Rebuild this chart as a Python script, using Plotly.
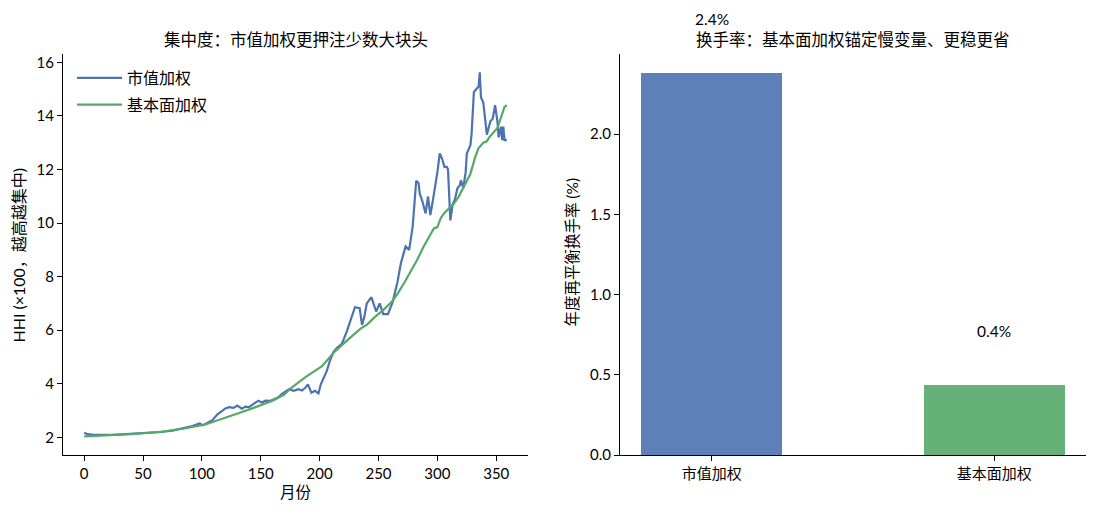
import plotly.graph_objects as go

# ---------------- data ----------------
mcap_months = [0, 3, 8, 15, 25, 35, 45, 55, 65, 75, 85, 92, 98, 101, 105, 109, 113, 117, 120, 123,
               127, 130, 134, 137, 140, 144, 148, 151, 154, 158, 162, 165, 168, 171, 174, 178, 182,
               185, 188, 190, 193, 196, 199, 201, 204, 206, 209, 212, 215, 219, 223, 227, 230, 234,
               236, 238, 240, 244, 246, 248, 251, 254, 258, 262, 266, 269, 273, 276, 279, 281, 282,
               284, 285, 287, 289, 290, 292, 294, 296, 298, 300, 302, 304, 306, 308, 309, 310, 311,
               313, 315, 317, 319, 320, 322, 324, 325, 327, 328, 329, 331, 333, 335, 336, 337, 339,
               341, 342, 345, 347, 349, 351, 352, 354, 355, 356, 357, 359]
mcap_hhi = [2.17, 2.12, 2.09, 2.08, 2.09, 2.12, 2.14, 2.17, 2.2, 2.25, 2.35, 2.42, 2.52, 2.45, 2.55,
            2.64, 2.85, 3.0, 3.08, 3.13, 3.1, 3.19, 3.07, 3.15, 3.13, 3.25, 3.37, 3.3, 3.37, 3.36,
            3.43, 3.5, 3.62, 3.7, 3.8, 3.74, 3.8, 3.75, 3.86, 3.98, 3.67, 3.74, 3.64, 3.98, 4.3, 4.47,
            4.9, 5.2, 5.35, 5.5, 5.95, 6.5, 6.86, 6.82, 6.2, 6.5, 7.0, 7.23, 7.0, 6.7, 7.0, 6.6, 6.6,
            7.05, 7.78, 8.5, 9.13, 9.0, 9.86, 11.0, 11.58, 11.5, 11.1, 10.85, 10.5, 10.36, 11.0, 10.3,
            10.8, 11.3, 11.9, 12.6, 12.4, 12.1, 12.1, 12.0, 11.0, 10.1, 10.7, 10.9, 11.3, 11.4, 11.6,
            11.3, 11.9, 12.6, 12.8, 12.9, 13.3, 14.9, 15.0, 15.1, 15.63, 14.7, 14.5, 13.6, 13.3, 13.8,
            13.9, 14.4, 13.8, 13.2, 13.6, 13.1, 13.6, 13.1, 13.1]

fund_months = [0, 20, 40, 64, 85, 103, 120, 131, 145, 160, 170, 176, 188, 195, 202, 213, 220, 227,
               235, 240, 247, 254, 261, 266, 272, 278, 283, 288, 292, 297, 300, 303, 306, 311, 314,
               318, 323, 328, 332, 335, 339, 342, 344, 351, 357, 359]
fund_hhi = [2.04, 2.07, 2.12, 2.2, 2.33, 2.48, 2.72, 2.9, 3.12, 3.37, 3.6, 3.85, 4.25, 4.45, 4.66,
            5.21, 5.5, 5.76, 6.07, 6.2, 6.5, 6.75, 7.05, 7.35, 7.78, 8.25, 8.64, 9.1, 9.4, 9.8, 9.85,
            10.2, 10.38, 10.6, 10.73, 10.98, 11.4, 11.83, 12.45, 12.8, 13.0, 13.05, 13.2, 13.55,
            14.34, 14.4]

series_names = ["市值加权", "基本面加权"]
turnover = [2.38, 0.435]
turnover_labels = ["2.4%", "0.4%"]

left_title = "集中度：市值加权更押注少数大块头"
right_title = "换手率：基本面加权锚定慢变量、更稳更省"

# ---------------- style ----------------
W, H = 1097, 523
BLUE, GREEN = "#4C72B0", "#55A868"
BAR_COLORS = ["#5E80B8", "#66B177"]
FONT = "Lato, 'Noto Sans CJK SC', sans-serif"
Y2MAX = 2.499
LABEL_OFFSET = 0.34


def px(x):
    return x / W


def py(y):
    return 1 - y / H


fig = go.Figure()
fig.add_trace(go.Scatter(x=mcap_months, y=mcap_hhi, mode="lines", name=series_names[0],
                         legendgroup="a", line=dict(color=BLUE, width=2.2), xaxis="x", yaxis="y"))
fig.add_trace(go.Scatter(x=fund_months, y=fund_hhi, mode="lines", name=series_names[1],
                         legendgroup="b", line=dict(color=GREEN, width=2.2), xaxis="x", yaxis="y"))
fig.add_trace(go.Bar(x=[0, 1], y=turnover, width=0.5, marker=dict(color=BAR_COLORS, line=dict(width=0)),
                     showlegend=False, xaxis="x2", yaxis="y2"))

axis_common = dict(showgrid=False, zeroline=False, showline=True, linecolor="black", linewidth=1,
                   ticks="outside", ticklen=5, tickcolor="black", tickwidth=1,
                   tickfont=dict(size=15, color="black", family=FONT), mirror=False)

fig.update_layout(
    width=W, height=H,
    margin=dict(l=0, r=0, t=0, b=0),
    paper_bgcolor="white", plot_bgcolor="white",
    font=dict(family=FONT, color="black"),
    xaxis=dict(domain=[px(63), px(528)], range=[-17.95, 376.95], tickvals=[0, 50, 100, 150, 200, 250, 300, 350],
               anchor="y", **axis_common),
    yaxis=dict(domain=[py(462), py(54)], range=[1.34, 16.31], tickvals=[2, 4, 6, 8, 10, 12, 14, 16],
               anchor="x", **axis_common),
    xaxis2=dict(domain=[px(620), px(1086)], range=[-0.325, 1.325], tickvals=[0, 1], ticktext=series_names,
                anchor="y2", **axis_common),
    yaxis2=dict(domain=[py(462), py(54)], range=[0, Y2MAX], tickvals=[0, 0.5, 1.0, 1.5, 2.0],
                tickformat=".1f", anchor="x2", **axis_common),
    legend=dict(x=px(72), y=py(61), xanchor="left", yanchor="top", bgcolor="rgba(255,255,255,0)",
                font=dict(size=16, color="black", family=FONT), tracegroupgap=3, itemwidth=45),
    showlegend=True,
    bargap=0,
)

annots = [
    dict(text=left_title, x=px(295.5), y=py(40), xref="paper", yref="paper", showarrow=False,
         font=dict(size=16.5, color="black", family=FONT), xanchor="center", yanchor="middle"),
    dict(text=right_title, x=px(853), y=py(40), xref="paper", yref="paper", showarrow=False,
         font=dict(size=16.5, color="black", family=FONT), xanchor="center", yanchor="middle"),
    dict(text="月份", x=px(295.5), y=py(500), xref="paper", yref="paper", showarrow=False,
         font=dict(size=15.5, color="black", family=FONT), xanchor="center", yanchor="middle"),
    dict(text="HHI (×100，越高越集中)", x=px(19), y=py(259), xref="paper", yref="paper", showarrow=False,
         textangle=-90, font=dict(size=16, color="black", family=FONT), xanchor="center", yanchor="middle"),
    dict(text="年度再平衡换手率 (%)", x=px(572), y=py(256), xref="paper", yref="paper", showarrow=False,
         textangle=-90, font=dict(size=15.5, color="black", family=FONT), xanchor="center", yanchor="middle"),
]
for i, (v, lab) in enumerate(zip(turnover, turnover_labels)):
    annots.append(dict(text=lab, x=i, y=(v + LABEL_OFFSET) / Y2MAX, xref="x2", yref="y2 domain",
                       showarrow=False, font=dict(size=15.5, color="black", family=FONT),
                       xanchor="center", yanchor="middle"))
fig.update_layout(annotations=annots)

fig.write_html("out.html")
